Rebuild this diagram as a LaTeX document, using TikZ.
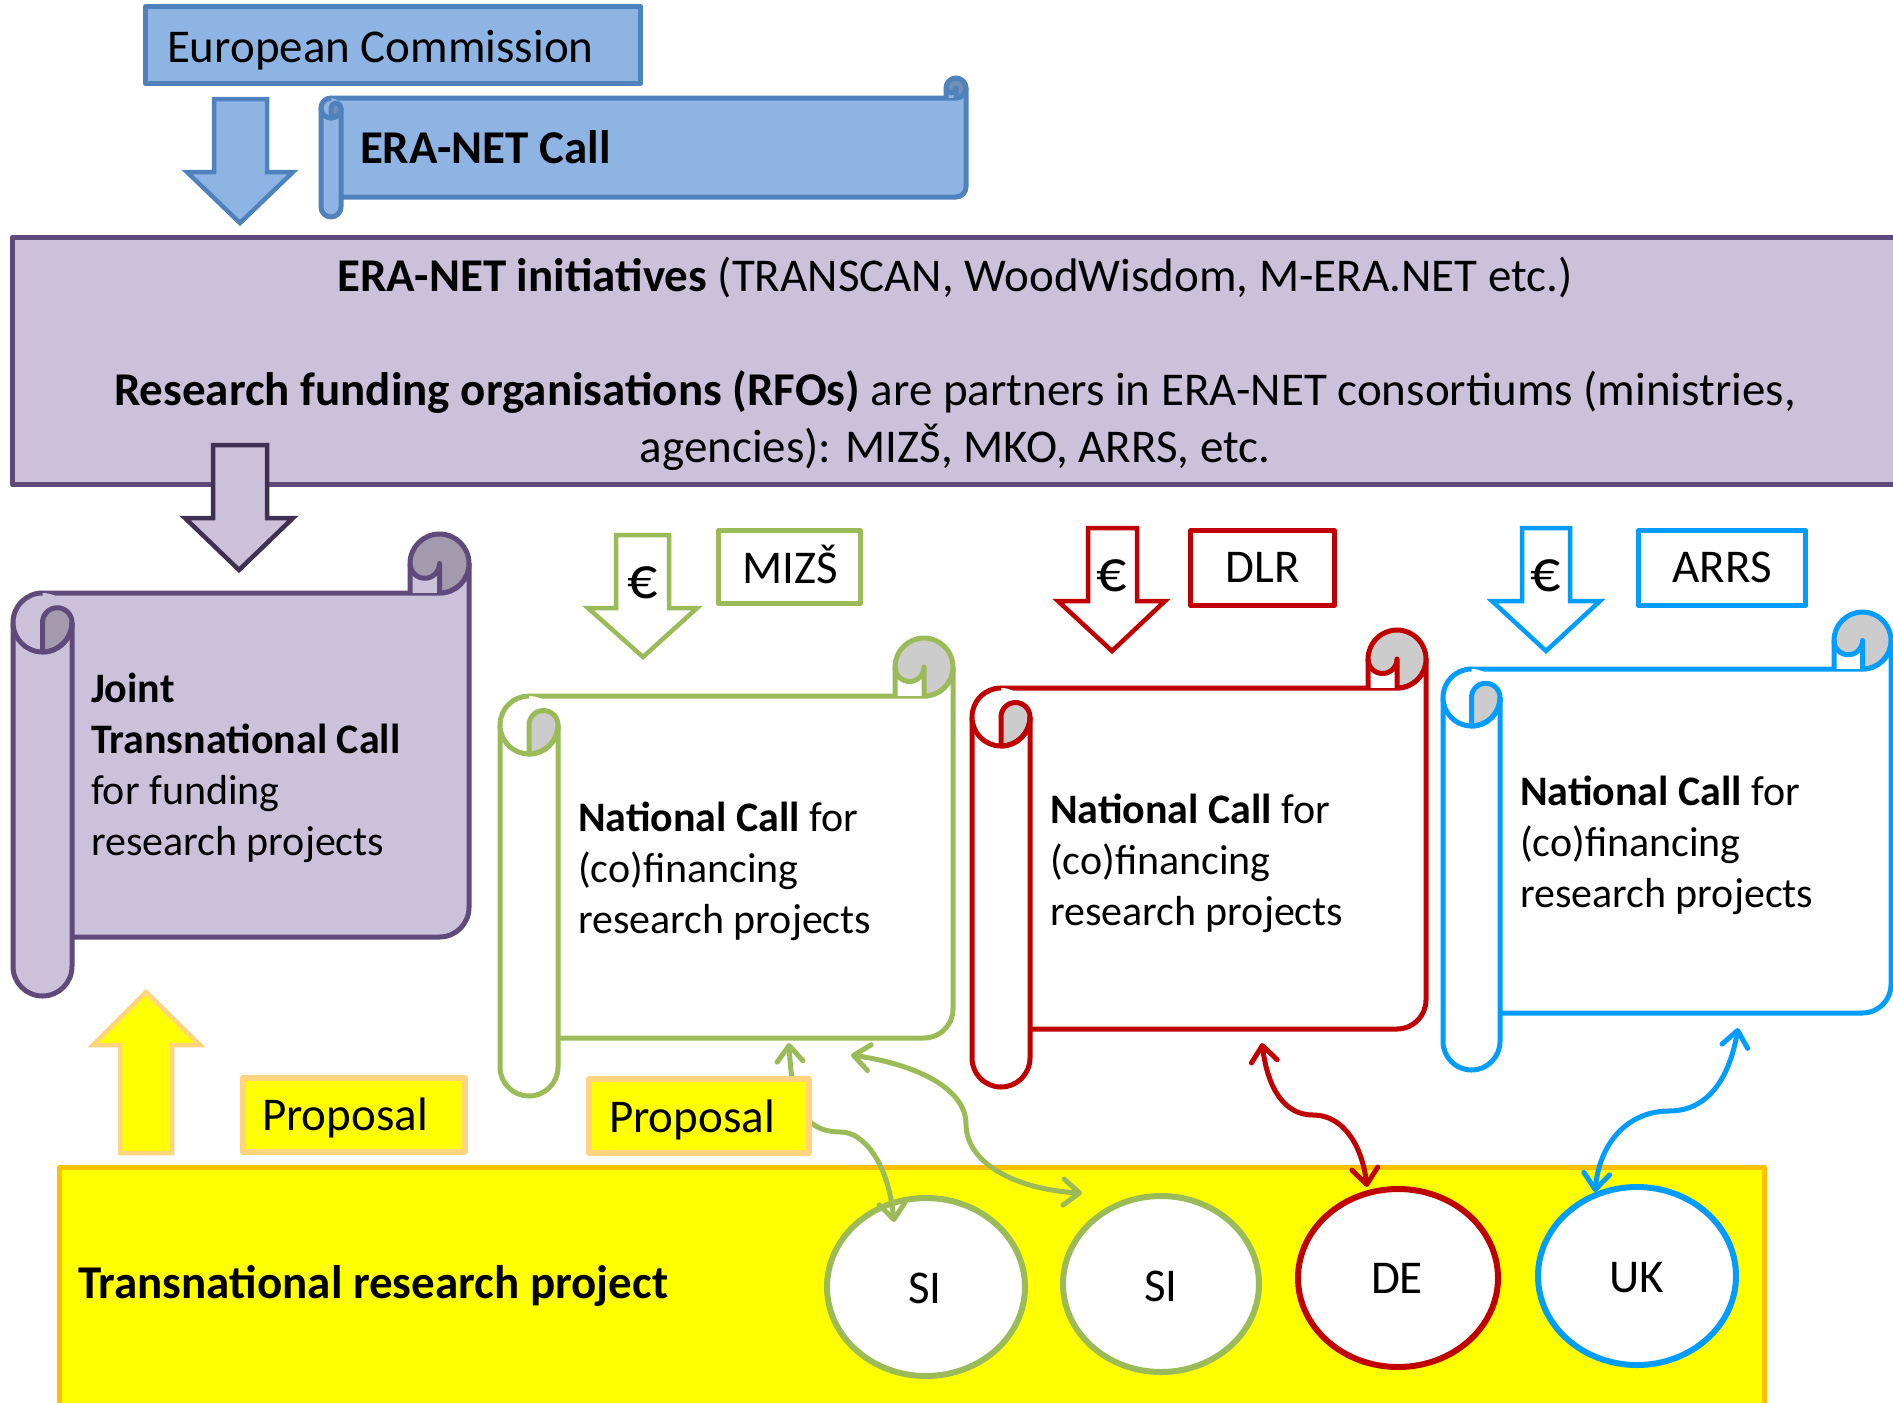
\documentclass[tikz,border=0pt]{standalone}
\usepackage{fontspec}
\setmainfont{Carlito}
\usetikzlibrary{shapes.geometric,arrows.meta}
\definecolor{ecfill}{HTML}{8EB4E3}
\definecolor{ecline}{HTML}{4F81BD}
\definecolor{ecdark}{HTML}{7290B6}
\definecolor{pfill}{HTML}{CCC1DA}
\definecolor{pline}{HTML}{604A7B}
\definecolor{parrow}{HTML}{3F3151}
\definecolor{pdark}{HTML}{A39AAE}
\definecolor{gline}{HTML}{9BBB59}
\definecolor{rline}{HTML}{C00000}
\definecolor{bline}{HTML}{009DFF}
\definecolor{sgrey}{HTML}{CCCCCC}
\definecolor{yfill}{HTML}{FFFF00}
\definecolor{yline}{HTML}{FFC000}
\definecolor{lorange}{HTML}{FFD47F}
\newcommand\szA{\fontsize{47pt}{57pt}\selectfont}
\newcommand\szB{\fontsize{42pt}{51pt}\selectfont}
\newcommand\szE{\fontsize{60pt}{60pt}\selectfont}
\newcommand\myscroll[8]{%
  \pgfmathsetmacro\scL{#1}\pgfmathsetmacro\scT{#2}%
  \pgfmathsetmacro\scR{#3}\pgfmathsetmacro\scB{#4}%
  \pgfmathsetmacro\scC{#5}\pgfmathsetmacro\scH{#5/2}\pgfmathsetmacro\scQ{#5/4}%
  \pgfmathsetmacro\xLh{\scL+\scH}\pgfmathsetmacro\xLc{\scL+\scC}%
  \pgfmathsetmacro\xRh{\scR-\scH}\pgfmathsetmacro\xRc{\scR-\scC}%
  \pgfmathsetmacro\yTh{\scT+\scH}\pgfmathsetmacro\yTc{\scT+\scC}%
  \pgfmathsetmacro\yTch{\scT+\scC+\scH}%
  \pgfmathsetmacro\yBc{\scB-\scC}\pgfmathsetmacro\yBch{\scB-\scC-\scH}\pgfmathsetmacro\yBh{\scB-\scH}%
  \filldraw[draw=#6,fill=#7] (\xLh,\yTc) -- (\xRh,\yTc) arc[start angle=90,end angle=0,radius=\scH] -- (\scR,\yBch) arc[start angle=0,end angle=90,radius=\scH] -- (\xLh,\yBc) -- cycle;
  \fill[#8] (\xRh,\yTh) circle[radius=\scH];
  \fill[#7] (\xRc,\yTh) rectangle (\xRh,\yTc);
  \fill[#8] (\xRc,\yTh) arc[start angle=180,end angle=0,radius=\scQ] -- cycle;
  \draw[#6] (\xRc,\yTc) -- (\xRc,\yTh) arc[start angle=180,end angle=450,radius=\scH];
  \draw[#6] (\xRc,\yTh) arc[start angle=180,end angle=0,radius=\scQ] -- (\xRh,\yTc);
  \filldraw[draw=#6,fill=#7] (\scL,\yTch) -- (\scL,\yBh) arc[start angle=180,end angle=0,radius=\scH] -- (\xLc,\yTch);
  \fill[#7] (\xLh,\yTch) circle[radius=\scH];
  \filldraw[draw=#6,fill=#8] (\xLh,\yTch) arc[start angle=180,end angle=360,radius=\scQ] arc[start angle=0,end angle=90,radius=\scH] -- cycle;
  \draw[#6] (\xLh,\yTc) arc[start angle=270,end angle=0,radius=\scH];
}
\begin{document}
\begin{tikzpicture}[x=1pt,y=-1pt,line width=5pt,line join=round,
  every node/.style={inner sep=0pt,outer sep=0pt,font=\szA},
  >={Straight Barb[length=16pt,width=26pt,round]},
  blockarrow/.style={line join=miter,line width=4.5pt},
  labelbox/.style={draw,line width=5pt,fill=white},
  conn/.style={line width=5pt,line cap=round,<->},
  country/.style={ellipse,draw,fill=white,line width=6pt},
  euro/.style={anchor=base,font=\szE}]
\useasboundingbox (0,0) rectangle (1893,1403);
\clip (0,0) rectangle (1893,1403);
\fill[white] (0,0) rectangle (1893,1403);

% European Commission
\node[draw=ecline,fill=ecfill,minimum width=495pt,minimum height=77pt] (ec) at (393,45) {};
\node[anchor=base west] (ectxt) at (167,62) {European Commission};
\filldraw[blockarrow,draw=ecline,fill=ecfill] (214,99) -- (267,99) -- (267,172) -- (293,172) -- (240,223) -- (187,172) -- (214,172) -- cycle;

% ERA-NET Call scroll
\myscroll{321}{78}{966}{217}{20}{ecline}{ecfill}{ecdark}
\node[anchor=base west] (calltxt) at (360,163) {\bfseries ERA-NET Call};

% ERA-NET initiatives box
\node[draw=pline,fill=pfill,minimum width=1888pt,minimum height=247pt] (era) at (956,361) {};
\node[anchor=base] (era1) at (955,291) {\textbf{ERA-NET initiatives} (TRANSCAN, WoodWisdom, M-ERA.NET etc.)};
\node[anchor=base] (era2) at (955,405) {\textbf{Research funding organisations (RFOs)} are partners in ERA-NET consortiums (ministries,};
\node[anchor=base] (era3) at (955,462) {agencies): MIZŠ, MKO, ARRS, etc.};
\filldraw[blockarrow,draw=parrow,fill=pfill] (213,445) -- (267,445) -- (267,518) -- (293,518) -- (239,570) -- (185,518) -- (213,518) -- cycle;

% Joint scroll
\myscroll{13}{534}{469}{996}{59}{pline}{pfill}{pdark}
\node[anchor=base west,font=\szB] (j1) at (91,702) {\bfseries Joint};
\node[anchor=base west,font=\szB] (j2) at (91,753) {\bfseries Transnational Call};
\node[anchor=base west,font=\szB] (j3) at (91,804) {for funding};
\node[anchor=base west,font=\szB] (j4) at (91,855) {research projects};

% green national
\filldraw[blockarrow,draw=gline,fill=white] (616,535) -- (669,535) -- (669,608) -- (697,608) -- (643,657) -- (588,608) -- (616,608) -- cycle;
\node[euro] (eurog) at (643,598) {€};
\node[labelbox,draw=gline,minimum width=142pt,minimum height=73pt] (mizs) at (789.5,567) {};
\node[anchor=base] (mizstxt) at (790,583) {MIZŠ};
\myscroll{500}{638}{953}{1096}{58}{gline}{white}{sgrey}
\node[anchor=base west,font=\szB] (g1) at (578,831) {\textbf{National Call} for};
\node[anchor=base west,font=\szB] (g2) at (578,882) {(co)financing};
\node[anchor=base west,font=\szB] (g3) at (578,933) {research projects};

% red national
\filldraw[blockarrow,draw=rline,fill=white] (1088,528) -- (1137,528) -- (1137,601) -- (1165,601) -- (1112,651) -- (1058,601) -- (1088,601) -- cycle;
\node[euro] (euror) at (1112,591) {€};
\node[labelbox,draw=rline,minimum width=144pt,minimum height=75pt] (dlr) at (1262.5,568) {};
\node[anchor=base] (dlrtxt) at (1263,582) {DLR};
\myscroll{972}{630}{1426}{1087}{58}{rline}{white}{sgrey}
\node[anchor=base west,font=\szB] (r1) at (1050,823) {\textbf{National Call} for};
\node[anchor=base west,font=\szB] (r2) at (1050,874) {(co)financing};
\node[anchor=base west,font=\szB] (r3) at (1050,925) {research projects};

% blue national
\filldraw[blockarrow,draw=bline,fill=white] (1522,528) -- (1570,528) -- (1570,601) -- (1600,601) -- (1546,651) -- (1492,601) -- (1522,601) -- cycle;
\node[euro] (eurob) at (1546,591) {€};
\node[labelbox,draw=bline,minimum width=167pt,minimum height=75pt] (arrs) at (1722,568) {};
\node[anchor=base] (arrstxt) at (1722,582) {ARRS};
\myscroll{1443}{612}{1891}{1070}{57}{bline}{white}{sgrey}
\node[anchor=base west,font=\szB] (b1) at (1520,805) {\textbf{National Call} for};
\node[anchor=base west,font=\szB] (b2) at (1520,856) {(co)financing};
\node[anchor=base west,font=\szB] (b3) at (1520,907) {research projects};

% bottom
\filldraw[blockarrow,draw=lorange,fill=yfill] (120,1153) -- (172,1153) -- (172,1045) -- (200,1045) -- (146,992) -- (93,1045) -- (120,1045) -- cycle;
\node[draw=yline,fill=yfill,minimum width=1705pt,minimum height=245pt] (trp) at (912,1290) {};
\node[anchor=base west] (trptxt) at (78,1298) {\bfseries Transnational research project};

\node[country,draw=gline,minimum width=198pt,minimum height=178pt] (si1) at (926,1287) {};
\node[country,draw=gline,minimum width=196pt,minimum height=176pt] (si2) at (1161,1284) {};
\node[country,draw=rline,minimum width=200pt,minimum height=178pt] (de) at (1398,1278) {};
\node[country,draw=bline,minimum width=198pt,minimum height=178pt] (uk) at (1637,1276) {};
\node[anchor=base] (si1t) at (925,1303) {SI};
\node[anchor=base] (si2t) at (1161,1301) {SI};
\node[anchor=base] (det) at (1397,1293) {DE};
\node[anchor=base] (ukt) at (1637,1292) {UK};

% connectors
\coordinate (ga) at (789,1043);
\coordinate (gm) at (841,1132);
\coordinate (gb) at (894,1222);
\coordinate (ha) at (851,1055);
\coordinate (hm) at (966,1124);
\coordinate (hb) at (1082,1193);
\coordinate (ra) at (1262,1043);
\coordinate (rm) at (1313,1115);
\coordinate (rb) at (1367,1187);
\coordinate (ba) at (1738,1028);
\coordinate (bm) at (1669,1111);
\coordinate (bb) at (1595,1192);
\draw[conn,gline] (ga) .. controls (792,1100) and (800,1132) .. (gm) .. controls (862,1132) and (888,1160) .. (gb);
\draw[conn,gline] (ha) .. controls (920,1065) and (966,1090) .. (hm) .. controls (966,1165) and (1020,1190) .. (hb);
\draw[conn,rline] (ra) .. controls (1268,1090) and (1285,1115) .. (rm) .. controls (1343,1115) and (1362,1145) .. (rb);
\draw[conn,bline] (ba) .. controls (1730,1075) and (1710,1111) .. (bm) .. controls (1630,1111) and (1600,1140) .. (bb);

% proposals
\node[draw=lorange,fill=yfill,line width=6pt,minimum width=222pt,minimum height=74pt] (prop1) at (354,1115) {};
\node[anchor=base west] (prop1t) at (262,1130) {Proposal};
\node[draw=lorange,fill=yfill,line width=6pt,minimum width=220pt,minimum height=74pt] (prop2) at (699,1116) {};
\node[anchor=base west] (prop2t) at (609,1132) {Proposal};
\end{tikzpicture}
\end{document}
